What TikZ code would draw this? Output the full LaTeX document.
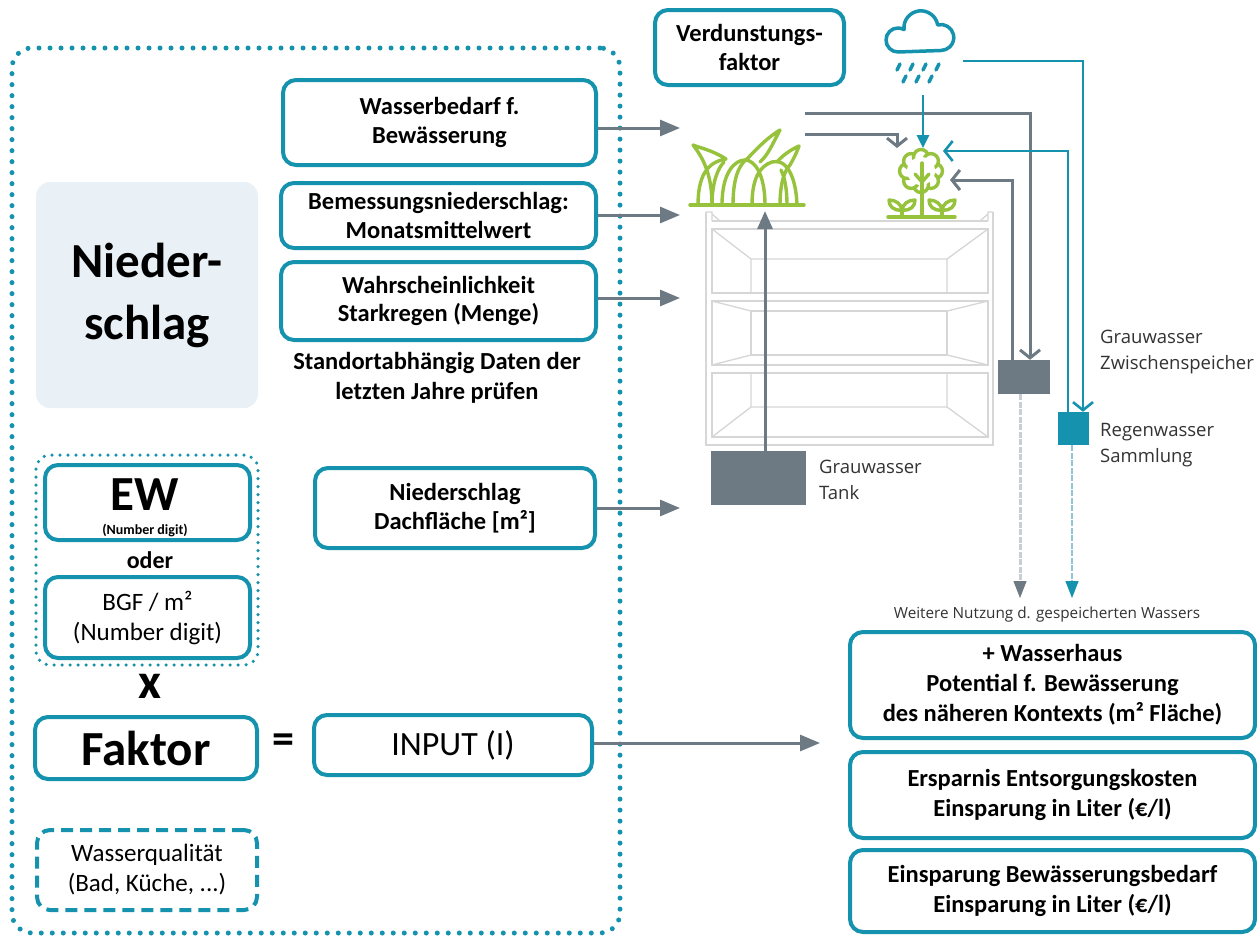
\documentclass[tikz,border=0pt]{standalone}
\usepackage{fontspec}
\setmainfont{Carlito}
\newfontfamily\labelfont{Open Sans}
\usetikzlibrary{arrows.meta}
\definecolor{tealA}{HTML}{1592AD}
\definecolor{greyA}{HTML}{6E7A83}
\definecolor{greenA}{HTML}{96C23C}
\definecolor{fillA}{HTML}{E9F1F7}
\definecolor{shelfC}{HTML}{D6D6D6}
\definecolor{lightG}{HTML}{C9CED3}
\definecolor{lightT}{HTML}{92C6D6}
\definecolor{labelC}{HTML}{333333}
\newcommand\myfs[2]{\fontsize{#1}{#2}\selectfont}
\begin{document}
\begin{tikzpicture}[x=1pt,y=-1pt,
  wh/.style 2 args={minimum width=#1pt, minimum height=#2pt},
  tbox/.style={draw=tealA, line width=4pt, rounded corners=13pt, fill=white, align=center, inner sep=0pt, text=black},
  btxt/.style={font=\myfs{24.5}{28.5}\bfseries},
  lbl/.style={font=\labelfont\myfs{18.5}{26}, text=labelC, align=left, anchor=west, inner sep=0pt},
  garrow/.style={draw=greyA, line width=3pt, -{Triangle[length=20pt,width=16pt]}},
  gbarb/.style={draw=greyA, line width=3pt, -{Straight Barb[length=8pt,width=20pt]}},
  tbarb/.style={draw=tealA, line width=2.6pt, -{Straight Barb[length=8pt,width=20pt]}},
  icon/.style={draw=greenA, line width=3.4pt, line cap=round, line join=round}
]
\useasboundingbox (0,0) rectangle (1257,937);
\fill[white] (0,0) rectangle (1257,937);

% ---------- left frame ----------
\node[draw=tealA, line width=5pt, dash pattern=on 0pt off 11pt, line cap=round, rounded corners=20pt, wh={608}{885}] (frame) at (316,490.5) {};

\node[fill=fillA, rounded corners=14pt, wh={222}{226}, align=center, inner sep=0pt, font=\myfs{49}{62}\bfseries] (nied) at (147,295) {Nieder-\\schlag};

\node[tbox, btxt, wh={313}{85}] (wb) at (439.5,122.5) {Wasserbedarf f.\\Bewässerung};
\node[tbox, btxt, wh={315}{65}] (bem) at (438.5,215.5) {Bemessungsniederschlag:\\Monatsmittelwert};
\node[tbox, btxt, wh={315}{78}] (wahr) at (438.5,301) {Wahrscheinlichkeit\\Starkregen (Menge)};
\node[align=center, font=\myfs{24.5}{30}\bfseries] (std) at (437,378) {Standortabhängig Daten der\\letzten Jahre prüfen};
\node[tbox, btxt, wh={280}{80}] (dach) at (455,508) {Niederschlag\\Dachfläche [m²]};

\node[draw=tealA, line width=3.5pt, dash pattern=on 0pt off 8pt, line cap=round, rounded corners=14pt, wh={222}{210}] (ewgrp) at (147,560) {};
\node[tbox, wh={205}{75}] (ew) at (147.5,502.5) {};
\node[font=\myfs{49}{50}\bfseries, inner sep=0pt] (ewt) at (145,495) {EW};
\node[font=\myfs{14}{16}\bfseries, inner sep=0pt] (ewn) at (145,530) {(Number digit)};
\node[font=\myfs{24}{26}\bfseries] (oder) at (150,560) {oder};
\node[tbox, font=\myfs{25}{30}, wh={205}{81}] (bgf) at (147.5,617.5) {BGF / m²\\(Number digit)};
\node[font=\myfs{50}{50}\bfseries, inner sep=0pt] (xs) at (150,686) {x};
\node[tbox, font=\myfs{49}{50}\bfseries, wh={222}{62}] (fak) at (146,748) {Faktor};
\node[font=\myfs{44}{44}\bfseries, inner sep=0pt] (eq) at (283,744) {=};
\node[tbox, font=\myfs{34}{36}, wh={278}{60}] (inp) at (453,745) {INPUT (I)};
\node[tbox, draw=tealA, dash pattern=on 12pt off 7pt, font=\myfs{25}{30}, wh={220}{80}] (wq) at (147,870) {Wasserqualität\\(Bad, Küche, ...)};

% ---------- right top ----------
\node[tbox, btxt, wh={189}{75}] (verd) at (749.5,47.5) {Verdunstungs-\\faktor};

% cloud
\draw[draw=tealA, line width=3.5pt, line join=round] (898,52) arc[start angle=90,end angle=300,radius=12] arc[start angle=174,end angle=350,radius=17] arc[start angle=256,end angle=450,radius=13] -- cycle;
\foreach \dx/\dy in {898/64, 911/64, 924/64, 937/64, 904/76, 917/76, 930/76}
  \draw[tealA, line width=3.5pt, line cap=round] (\dx+2,\dy) -- (\dx-1,\dy+6);
\coordinate (cloudS) at (923,95);
\coordinate (cloudE) at (963,61);

% shelf
\begin{scope}[draw=shelfC, line width=1.3pt]
  \draw (706,212) -- (706,445) -- (993,445) -- (993,212);
  \draw (706,212) -- (712,212) -- (712,221) (712,214) -- (720,221);
  \draw (993,212) -- (988,212) -- (988,221) (988,214) -- (980,221);
  \draw (712,221) -- (988,221);
  \draw (712,229) rectangle (988,293);
  \draw (712,301) rectangle (988,365);
  \draw (712,373) rectangle (988,437);
  \draw (712,229) -- (751,259) -- (947,259) -- (988,229) (751,259) -- (751,293) (947,259) -- (947,293);
  \draw (751,311) rectangle (947,355);
  \draw (712,301) -- (751,311) (988,301) -- (947,311) (712,365) -- (751,355) (988,365) -- (947,355);
  \draw (751,373) -- (751,407) -- (947,407) -- (947,373) (712,437) -- (751,407) (988,437) -- (947,407);
\end{scope}

% grass icon
\draw[icon] (690,205) -- (804,205);
\draw[icon] (698,205) .. controls (698,178) and (706,162) .. (726,159) .. controls (712,150) and (700,148) .. (693,145) .. controls (705,160) and (712,178) .. (712,205);
\draw[icon] (722,205) .. controls (722,172) and (735,160) .. (745,160) .. controls (755,160) and (765,175) .. (765,205);
\draw[icon] (733,205) .. controls (733,180) and (738,165) .. (748,158) .. controls (760,145) and (770,136) .. (780,130) .. controls (772,145) and (768,155) .. (760,162);
\draw[icon] (712,205) .. controls (712,182) and (718,168) .. (724,162);
\draw[icon] (752,205) .. controls (752,178) and (760,166) .. (772,162) .. controls (786,158) and (796,176) .. (797,205);
\draw[icon] (780,205) .. controls (780,182) and (785,170) .. (790,165) .. controls (794,158) and (797,152) .. (799,146) .. controls (790,150) and (782,156) .. (777,162);
\draw[icon] (787,205) .. controls (787,190) and (785,178) .. (781,170);
\coordinate (grR1) at (805,113);
\coordinate (grR2) at (805,134);
\coordinate (grB) at (765,211);

% plant icon
\foreach \a in {0,45,...,315}
  \draw[icon, fill=white] (921,171) ++(\a:14) circle (7.5);
\fill[white] (921,171) circle (14);
\draw[icon] (922,163) -- (922,217);
\draw[icon] (915,174) -- (922,182) -- (929,174);
\draw[icon] (888,217) -- (955,217);
\draw[icon] (902,217) -- (902,210);
\draw[icon] (902,210) .. controls (893,211) and (889,206) .. (889,200) .. controls (896,200) and (901,204) .. (902,210)
               .. controls (903,204) and (908,200) .. (915,200) .. controls (915,206) and (911,211) .. (902,210);
\draw[icon] (942,217) -- (942,210);
\draw[icon] (942,210) .. controls (933,211) and (929,206) .. (929,200) .. controls (936,200) and (941,204) .. (942,210)
               .. controls (943,204) and (948,200) .. (955,200) .. controls (955,206) and (951,211) .. (942,210);
\coordinate (pl1) at (897,148);
\coordinate (pl0) at (923,148);
\coordinate (pl2) at (943,151);
\coordinate (pl3) at (950,180);

% storage boxes
\node[fill=greyA, wh={95}{54}, inner sep=0pt] (tank) at (758.5,478) {};
\node[fill=greyA, wh={52}{34}, inner sep=0pt] (zws) at (1024,377) {};
\node[fill=tealA, wh={31}{33}, inner sep=0pt] (regen) at (1073.5,428.5) {};
\node[lbl] (tankl) at (819,480) {Grauwasser\\Tank};
\node[lbl] (zwsl) at (1100,352) {Grauwasser\\Zwischenspeicher};
\node[lbl] (regenl) at (1100,445) {Regenwasser\\Sammlung};

% ---------- right bottom ----------
\node[font=\labelfont\myfs{15.3}{17}, text=labelC] (weit) at (1047,615) {Weitere Nutzung d. gespeicherten Wassers};
\node[tbox, font=\myfs{24.5}{30}\bfseries, wh={405}{106}] (out1) at (1052.5,685) {+ Wasserhaus\\Potential f. Bewässerung\\des näheren Kontexts (m² Fläche)};
\node[tbox, font=\myfs{24.5}{30}\bfseries, wh={405}{86}] (out2) at (1052.5,795) {Ersparnis Entsorgungskosten\\Einsparung in Liter (€/l)};
\node[tbox, font=\myfs{24.5}{30}\bfseries, wh={405}{82}] (out3) at (1052.5,891) {Einsparung Bewässerungsbedarf\\Einsparung in Liter (€/l)};

% ---------- connectors ----------
\coordinate (a1) at (680,128);
\coordinate (a2) at (680,215);
\coordinate (a3) at (680,298);
\coordinate (a4) at (680,508);
\coordinate (a5) at (820,743);
\draw[garrow] (wb.east |- a1) -- (a1);
\draw[garrow] (bem.east |- a2) -- (a2);
\draw[garrow] (wahr.east |- a3) -- (a3);
\draw[garrow] (dach.east |- a4) -- (a4);
\draw[garrow] (inp.east |- a5) -- (a5);
\draw[draw=greyA, line width=3pt, -{Triangle[length=18pt,width=15pt]}] (grB |- tank.north) -- (grB);

\draw[gbarb] (grR1) -| ([xshift=6pt]zws.north);
\draw[gbarb] (grR2) -| (pl1);
\draw[gbarb] ([xshift=-12pt]zws.north) |- (pl3);
\draw[draw=tealA, line width=2.6pt, -{Triangle[length=13pt,width=12pt]}] (cloudS) -- (pl0);
\draw[tbarb] (cloudE) -| ([xshift=9.5pt]regen.north);
\draw[tbarb] ([xshift=-5.5pt]regen.north) |- (pl2);

\coordinate (w1) at (1020,598);
\coordinate (w2) at (1072,598);
\draw[draw=lightG, line width=3pt, dash pattern=on 6pt off 1.5pt] ([xshift=-4pt]zws.south) -- ([yshift=16pt]w1);
\draw[draw=lightT, line width=2.6pt, dash pattern=on 6pt off 1.5pt] ([xshift=-1.5pt]regen.south) -- ([yshift=16pt]w2);
\draw[draw=greyA, line width=1pt, -{Triangle[length=17pt,width=13pt]}] ([yshift=17pt]w1) -- (w1);
\draw[draw=tealA, line width=1pt, -{Triangle[length=17pt,width=13pt]}] ([yshift=17pt]w2) -- (w2);
\end{tikzpicture}
\end{document}
